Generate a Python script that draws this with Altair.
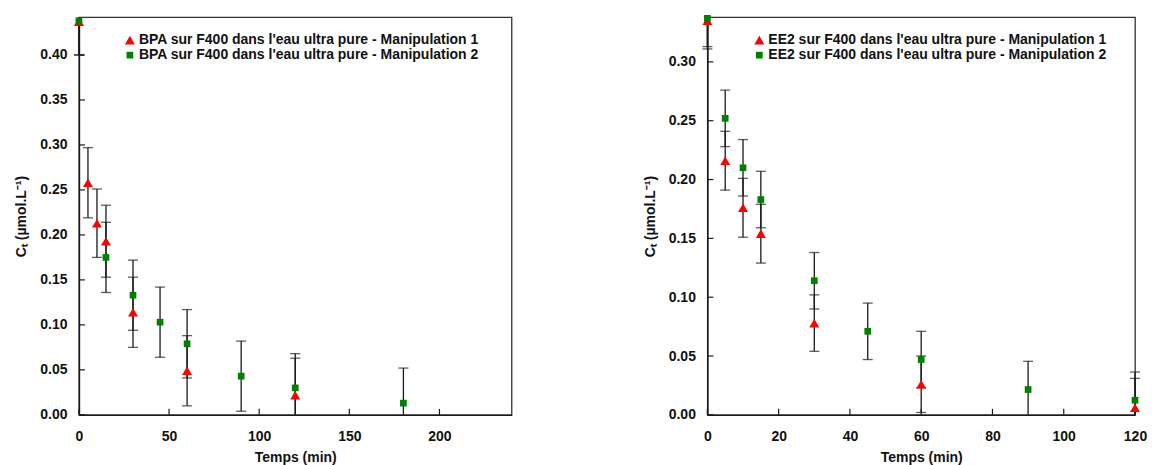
import altair as alt
import pandas as pd

FONT = "Liberation Sans"

# ---- Left panel: BPA ----
bpa_labels = ["BPA sur F400 dans l'eau ultra pure - Manipulation 1",
              "BPA sur F400 dans l'eau ultra pure - Manipulation 2"]
bpa_m1_t = [0, 5, 10, 15, 30, 60, 120]
bpa_m1_c = [0.437, 0.258, 0.213, 0.193, 0.114, 0.049, 0.022]
bpa_m1_e = [0.037, 0.039, 0.038, 0.040, 0.039, 0.039, 0.041]
bpa_m2_t = [0, 15, 30, 45, 60, 90, 120, 180]
bpa_m2_c = [0.438, 0.175, 0.133, 0.103, 0.079, 0.043, 0.030, 0.013]
bpa_m2_e = [0.038, 0.039, 0.039, 0.039, 0.038, 0.039, 0.038, 0.039]
bpa_xdom = [0, 240]
bpa_xticks = [0, 50, 100, 150, 200]
bpa_ydom = [0, 0.442]
bpa_yticks = [0.0, 0.05, 0.10, 0.15, 0.20, 0.25, 0.30, 0.35, 0.40]

# ---- Right panel: EE2 ----
ee2_labels = ["EE2 sur F400 dans l'eau ultra pure - Manipulation 1",
              "EE2 sur F400 dans l'eau ultra pure - Manipulation 2"]
ee2_m1_t = [0, 5, 10, 15, 30, 60, 120]
ee2_m1_c = [0.335, 0.216, 0.176, 0.154, 0.078, 0.026, 0.006]
ee2_m1_e = [0.024, 0.025, 0.025, 0.025, 0.024, 0.024, 0.025]
ee2_m2_t = [0, 5, 10, 15, 30, 45, 60, 90, 120]
ee2_m2_c = [0.337, 0.252, 0.210, 0.183, 0.114, 0.071, 0.047, 0.0215, 0.0124]
ee2_m2_e = [0.024, 0.024, 0.024, 0.024, 0.024, 0.024, 0.024, 0.024, 0.024]
ee2_xdom = [0, 120]
ee2_xticks = [0, 20, 40, 60, 80, 100, 120]
ee2_ydom = [0, 0.338]
ee2_yticks = [0.0, 0.05, 0.10, 0.15, 0.20, 0.25, 0.30]

x_title = "Temps (min)"
y_title = "Cₜ (µmol.L⁻¹)"
colors = ["#ff0000", "#008000"]
shapes = ["triangle-up", "square"]
sizes = [100, 45]

H = 398


def series(ts, cs, es, label):
    return pd.DataFrame({"t": ts, "c": cs, "e": es, "s": label})


def panel(m1, m2, labels, xdom, xticks, ydom, yticks, width, legx):
    df = pd.concat([series(*m1, labels[0]), series(*m2, labels[1])], ignore_index=True)
    ymin, ymax = ydom
    xs = alt.Scale(domain=xdom, nice=False, zero=False)
    ys = alt.Scale(domain=ydom, nice=False, zero=False)
    xax = alt.Axis(title=x_title, values=xticks, format="d", ticks=False, tickSize=0,
                   labelFlush=False, labelPadding=15, titlePadding=7, grid=False)
    yax = alt.Axis(title=y_title, values=yticks, format=".2f", ticks=False, tickSize=0,
                   labelPadding=12, titlePadding=11, grid=False)
    base = alt.Chart(df).transform_calculate(
        lo=f"max(datum.c - datum.e, {ymin})",
        hi=f"min(datum.c + datum.e, {ymax})",
        lo_raw="datum.c - datum.e",
        hi_raw="datum.c + datum.e",
    )
    X = alt.X("t:Q", scale=xs, axis=xax)
    bars = base.mark_rule(color="#1a1a1a", strokeWidth=1.3).encode(
        x=X, y=alt.Y("lo:Q", scale=ys, axis=yax), y2="hi:Q")
    cap_lo = base.transform_filter(f"datum.lo_raw >= {ymin}").mark_tick(
        orient="horizontal", color="#1a1a1a", size=10, thickness=1.3).encode(
        x=X, y=alt.Y("lo_raw:Q", scale=ys, axis=yax))
    cap_hi = base.transform_filter(f"datum.hi_raw <= {ymax}").mark_tick(
        orient="horizontal", color="#1a1a1a", size=10, thickness=1.3).encode(
        x=X, y=alt.Y("hi_raw:Q", scale=ys, axis=yax))
    leg = alt.Legend(title=None, orient="none", legendX=legx, legendY=16)
    pts = base.mark_point(filled=True, opacity=1, strokeWidth=0).encode(
        x=X,
        y=alt.Y("c:Q", scale=ys, axis=yax),
        color=alt.Color("s:N", scale=alt.Scale(domain=labels, range=colors), legend=leg),
        shape=alt.Shape("s:N", scale=alt.Scale(domain=labels, range=shapes), legend=leg),
        size=alt.Size("s:N", scale=alt.Scale(domain=labels, range=sizes), legend=leg),
    )
    ytk = alt.Chart(pd.DataFrame({"v": yticks})).mark_rule(color="#1a1a1a", strokeWidth=1.2).encode(
        y=alt.Y("v:Q", scale=ys, axis=yax), x=alt.value(0), x2=alt.value(6))
    xtk = alt.Chart(pd.DataFrame({"v": xticks})).mark_rule(color="#1a1a1a", strokeWidth=1.2).encode(
        x=alt.X("v:Q", scale=xs, axis=xax), y=alt.value(H), y2=alt.value(H - 6))
    return alt.layer(ytk, xtk, bars, cap_lo, cap_hi, pts).properties(width=width, height=H)


left = panel((bpa_m1_t, bpa_m1_c, bpa_m1_e), (bpa_m2_t, bpa_m2_c, bpa_m2_e), bpa_labels,
             bpa_xdom, bpa_xticks, bpa_ydom, bpa_yticks, 433, 44)
right = panel((ee2_m1_t, ee2_m1_c, ee2_m1_e), (ee2_m2_t, ee2_m2_c, ee2_m2_e), ee2_labels,
              ee2_xdom, ee2_xticks, ee2_ydom, ee2_yticks, 428, 45)

chart = alt.hconcat(left, right, spacing=130).resolve_scale(
    color="independent", shape="independent", size="independent"
).resolve_legend(color="independent", shape="independent", size="independent").properties(
    padding={"left": 6, "top": 6, "right": 0, "bottom": 0}
).configure_view(stroke="#333333", strokeWidth=1.3).configure_axis(
    labelFont=FONT, labelFontSize=14, labelFontWeight="bold", labelColor="#111111",
    titleFont=FONT, titleFontSize=14, titleFontWeight="bold", titleColor="#111111",
    domainColor="#1a1a1a", domainWidth=1.5,
).configure_legend(
    labelFont=FONT, labelFontSize=14, labelFontWeight="bold", labelColor="#111111",
    padding=0, rowPadding=1, labelOffset=2, symbolStrokeWidth=0, labelLimit=0,
)

chart.save("out.html", embed_options={"renderer": "svg", "actions": False})
